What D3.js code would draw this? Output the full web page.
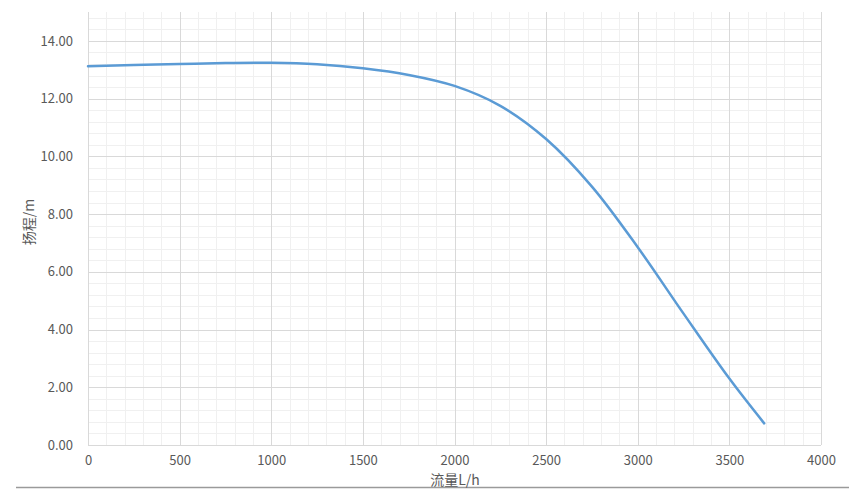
<!DOCTYPE html>
<html><head><meta charset="utf-8">
<script src="https://cdn.jsdelivr.net/npm/d3@7"></script>
<style>body{margin:0;background:#fff}svg{display:block}</style>
</head><body><svg id="c" width="849" height="492"></svg>
<script>
const flow = [0, 250, 500, 750, 1000, 1250, 1500, 1750, 2000, 2250, 2500, 2750, 3000, 3250, 3500, 3690];
const head = [13.12, 13.16, 13.2, 13.23, 13.24, 13.19, 13.05, 12.82, 12.44, 11.75, 10.6, 8.95, 6.85, 4.55, 2.3, 0.75];
const xTicks = [0, 500, 1000, 1500, 2000, 2500, 3000, 3500, 4000];
const yTicks = [0, 2, 4, 6, 8, 10, 12, 14];
const xTitle = "流量L/h";
const yTitle = "扬程/m";

const svg = d3.select("#c");
const m = {l: 88, r: 821, t: 12, b: 445};
const x = d3.scaleLinear().domain([0, 4000]).range([m.l, m.r]);
const y = d3.scaleLinear().domain([0, 15]).range([m.b, m.t]);
const font = "'Noto Sans CJK SC','Open Sans',sans-serif";

// outer frame bottom line
svg.append("line").attr("x1", 16).attr("x2", 849).attr("y1", 487.5).attr("y2", 487.5)
  .attr("stroke", "#9a9a9a").attr("stroke-width", 1.5);

const g = svg.append("g");
// minor grid
const xMinor = d3.range(0, 4001, 100).filter(v => v % 500 !== 0);
const yMinor = d3.range(0, 15.01, 0.4).filter(v => Math.abs(v / 2 - Math.round(v / 2)) > 1e-6);
g.selectAll(".xm").data(xMinor).join("line")
  .attr("x1", d => Math.round(x(d)) + 0.5).attr("x2", d => Math.round(x(d)) + 0.5)
  .attr("y1", m.t).attr("y2", m.b).attr("stroke", "#f0f0f0");
g.selectAll(".ym").data(yMinor).join("line")
  .attr("y1", d => Math.round(y(d)) + 0.5).attr("y2", d => Math.round(y(d)) + 0.5)
  .attr("x1", m.l).attr("x2", m.r).attr("stroke", "#f0f0f0");
// major grid
g.selectAll(".xM").data(xTicks).join("line")
  .attr("x1", d => Math.round(x(d)) + 0.5).attr("x2", d => Math.round(x(d)) + 0.5)
  .attr("y1", m.t).attr("y2", m.b).attr("stroke", "#d9d9d9");
g.selectAll(".yM").data(yTicks).join("line")
  .attr("y1", d => Math.round(y(d)) + 0.5).attr("y2", d => Math.round(y(d)) + 0.5)
  .attr("x1", m.l).attr("x2", m.r).attr("stroke", "#d9d9d9");

// axes labels via d3 axes
const xAxis = svg.append("g").attr("transform", `translate(0,${m.b})`)
  .call(d3.axisBottom(x).tickValues(xTicks).tickSize(0).tickPadding(11).tickFormat(d3.format("d")));
const yAxis = svg.append("g").attr("transform", `translate(${m.l},0)`)
  .call(d3.axisLeft(y).tickValues(yTicks).tickSize(0).tickPadding(15).tickFormat(d3.format(".2f")));
[xAxis, yAxis].forEach(a => {
  a.select(".domain").remove();
  a.selectAll("text").attr("fill", "#595959").style("font-family", font).style("font-size", "13px");
});

// curve
const pts = flow.map((f, i) => [f, head[i]]);
svg.append("path").datum(pts)
  .attr("d", d3.line().x(d => x(d[0])).y(d => y(d[1])).curve(d3.curveCatmullRom.alpha(0.5)))
  .attr("fill", "none").attr("stroke", "#5b9bd5").attr("stroke-width", 2.5)
  .attr("stroke-linecap", "round");

// titles
svg.append("text").attr("x", 455).attr("y", 485).attr("text-anchor", "middle")
  .attr("fill", "#595959").style("font-family", font).style("font-size", "14px").text(xTitle);
svg.append("text").attr("transform", "translate(34,222) rotate(-90)").attr("text-anchor", "middle")
  .attr("fill", "#595959").style("font-family", font).style("font-size", "14px").text(yTitle);
</script></body></html>
